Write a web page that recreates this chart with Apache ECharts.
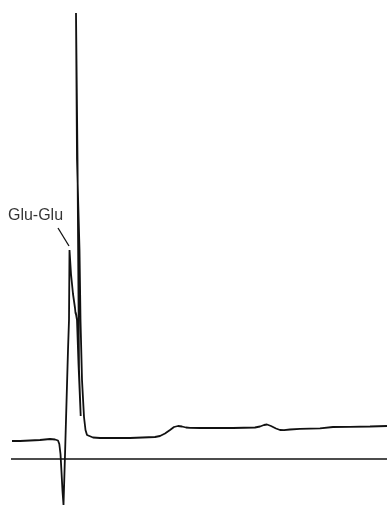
<!DOCTYPE html>
<html>
<head>
<meta charset="utf-8">
<script src="https://cdn.jsdelivr.net/npm/echarts@6/dist/echarts.min.js"></script>
<style>
  html, body { margin: 0; padding: 0; background: #fff; }
  #chart { width: 387px; height: 507px; }
</style>
</head>
<body>
<div id="chart"></div>
<script>
// Detector trace: retention time (min) vs. signal (relative units, 0 = reference line)
const traceTime = [
  1.2, 2.0, 3.0, 4.0, 4.5, 5.0, 5.5, 5.8, 5.93, 6.05, 6.15, 6.25, 6.35, 6.43,
  6.5, 6.6, 6.7, 6.8, 6.9, 6.95,
  7.1, 7.3, 7.5, 7.55, 7.65, 7.58, 7.7, 7.85, 8.07,
  7.9, 7.75, 7.6,
  7.7, 7.95, 8.05, 8.2, 8.4, 8.55, 8.7, 8.9, 9.3,
  10.0, 13.0, 15.5, 16.0, 16.5, 17.0, 17.4, 17.8, 18.2, 18.6, 19.0,
  20.0, 23.3, 25.5, 26.0, 26.4, 26.7, 27.1, 27.6, 28.0, 28.4, 29.0, 30.0,
  32.0, 33.3, 35.0, 37.0, 38.7
];
const traceSignal = [
  1.8, 1.8, 1.85, 1.9, 1.95, 2.0, 1.95, 1.85, 1.5, 0.5, -1.3, -3.2, -4.6, -4.7,
  0.4, 3.9, 7.4, 10.9, 13.9, 20.9,
  18.5, 16.5, 15.1, 14.6, 14.3, 14.6, 13.9, 9.5, 4.3,
  9.0, 30.0, 44.6,
  30.0, 20.9, 13.9, 7.9, 4.2, 2.9, 2.4, 2.25, 2.15,
  2.1, 2.1, 2.2, 2.3, 2.55, 2.9, 3.2, 3.3, 3.25, 3.15, 3.12,
  3.1, 3.1, 3.15, 3.25, 3.4, 3.45, 3.3, 3.05, 2.9, 2.88, 2.95, 3.02,
  3.07, 3.2, 3.22, 3.25, 3.3
];

// Reference (zero) line
const zeroTime = [1.1, 38.7];
const zeroSignal = [0, 0];

// Peak annotation
const peakName = 'Glu-Glu';
const leaderTime = [5.8, 6.9];
const leaderSignal = [23.1, 21.3];
const labelTime = 3.55;
const labelSignal = 24.3;

const zip = (xs, ys) => xs.map((x, i) => [x, ys[i]]);

const chart = echarts.init(document.getElementById('chart'), null, { renderer: 'canvas' });
chart.setOption({
  animation: false,
  backgroundColor: '#ffffff',
  grid: { left: 0, right: 0, top: 0, bottom: 0 },
  xAxis: { type: 'value', min: 0, max: 38.7, show: false },
  yAxis: { type: 'value', min: -4.8, max: 45.9, show: false },
  series: [
    {
      name: 'trace',
      type: 'line',
      data: zip(traceTime, traceSignal),
      showSymbol: false,
      smooth: false,
      lineStyle: { color: '#111', width: 1.8 }
    },
    {
      name: 'zero',
      type: 'line',
      data: zip(zeroTime, zeroSignal),
      showSymbol: false,
      lineStyle: { color: '#111', width: 1.5 }
    },
    {
      name: 'leader',
      type: 'line',
      data: zip(leaderTime, leaderSignal),
      showSymbol: false,
      lineStyle: { color: '#111', width: 1.3 }
    },
    {
      name: 'label',
      type: 'scatter',
      data: [[labelTime, labelSignal]],
      symbolSize: 0,
      label: {
        show: true,
        position: 'inside',
        formatter: peakName,
        fontFamily: 'Liberation Sans, Arial, sans-serif',
        fontSize: 16,
        color: '#000',
        textBorderWidth: 0
      }
    }
  ]
});
</script>
</body>
</html>
